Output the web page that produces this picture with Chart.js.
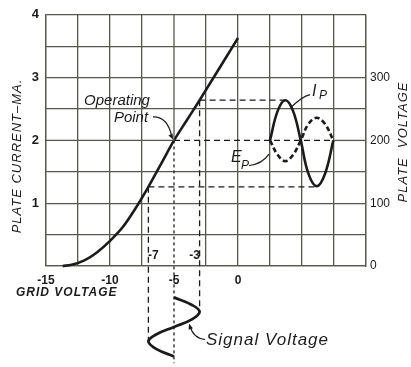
<!DOCTYPE html>
<html>
<head>
<meta charset="utf-8">
<script src="https://cdn.jsdelivr.net/npm/chart.js@4.4.1/dist/chart.umd.min.js"></script>
<style>
  html, body { margin: 0; padding: 0; background: #fff; }
  canvas { display: block; }
</style>
</head>
<body>
<canvas id="tube" width="411" height="367"></canvas>
<script>
// tick labels
const gridTicks = [-15, -10, -5, 0];
const currentTicks = [1, 2, 3, 4];
const plateTicks = [0, 100, 200, 300];

// Ip - Eg characteristic (grid volts, plate ma)
const curveVolts = [-13.7, -13, -12, -11, -10, -9, -8, -7, -6, -5, -4, -3, -2, -1, 0];
const curveMa = [0, 0.02, 0.09, 0.22, 0.4, 0.62, 0.92, 1.26, 1.63, 2.0, 2.32, 2.64, 2.97, 3.3, 3.63];

// operating point and grid swing
const opVolts = -5, opMa = 2.0;
const swingVolts = [-7, -3];
const swingMa = [1.26, 2.64];

// plate current / plate voltage waves, drawn against time along the grid axis
const waveTime = [2.5, 3.1, 3.7, 4.3, 4.9, 5.5, 6.15, 6.8, 7.45];
const ipMa = [2.0, 2.47, 2.64, 2.47, 2.0, 1.47, 1.27, 1.47, 2.0];
const epPlate = [200, 177, 167, 177, 200, 226, 236, 226, 200];

// signal voltage below the axis (grid volts vs time going down)
const signalVolts = [-5, -3.6, -3, -3.6, -5, -6.4, -7, -6.4, -5];
const signalDepth = [-0.5, -0.62, -0.73, -0.85, -0.97, -1.09, -1.2, -1.32, -1.44];

const ink = '#1b1b1b';
const gridInk = '#56594a';

function pts(xs, ys) {
    return xs.map((x, i) => ({ x: x, y: ys[i] }));
}

function line(data, opts) {
    return Object.assign({
        data: data,
        showLine: true,
        pointRadius: 0,
        borderColor: ink,
        borderWidth: 1.3,
        tension: 0,
        clip: false,
        yAxisID: 'y'
    }, opts);
}

const datasets = [
    // grid line pieces that are broken by the construction lines
    line([{ x: -15, y: opMa }, { x: opVolts, y: opMa }], { borderColor: gridInk }),
    line([{ x: 7.5, y: opMa }, { x: 10, y: opMa }], { borderColor: gridInk }),
    line([{ x: opVolts, y: opMa }, { x: opVolts, y: 4 }], { borderColor: gridInk }),

    // construction lines
    line([{ x: swingVolts[0], y: swingMa[0] }, { x: swingVolts[0], y: signalDepth[6] }], { borderDash: [6, 4] }),
    line([{ x: swingVolts[1], y: swingMa[1] }, { x: swingVolts[1], y: signalDepth[2] }], { borderDash: [6, 4] }),
    line([{ x: opVolts, y: opMa }, { x: opVolts, y: -1.55 }], { borderDash: [3, 3] }),
    line([{ x: swingVolts[1], y: swingMa[1] }, { x: waveTime[2], y: swingMa[1] }], { borderDash: [6, 4] }),
    line([{ x: swingVolts[0], y: swingMa[0] }, { x: waveTime[6], y: swingMa[0] }], { borderDash: [6, 4] }),
    line([{ x: opVolts, y: opMa }, { x: waveTime[8], y: opMa }], { borderDash: [6, 4] }),

    // characteristic
    line(pts(curveVolts, curveMa), { borderWidth: 2.6, cubicInterpolationMode: 'monotone' }),
    // plate current wave
    line(pts(waveTime, ipMa), { borderWidth: 2.6, tension: 0.4 }),
    // plate voltage wave
    line(pts(waveTime, epPlate), { borderWidth: 2.6, tension: 0.4, borderDash: [5, 3], yAxisID: 'y2' }),
    // signal voltage
    line(pts(signalVolts, signalDepth), { borderWidth: 2.8, tension: 0.4 })
];

const notes = {
    id: 'notes',
    afterDraw(chart) {
        const c = chart.ctx;
        const sx = chart.scales.x, sy = chart.scales.y;
        const px = v => sx.getPixelForValue(v);
        const py = v => sy.getPixelForValue(v);
        c.save();
        c.fillStyle = ink;
        c.strokeStyle = ink;
        c.lineWidth = 1.2;
        c.textBaseline = 'middle';

        function arrowHead(x, y, ang) {
            c.beginPath();
            c.moveTo(x, y);
            c.lineTo(x - 6 * Math.cos(ang - 0.4), y - 6 * Math.sin(ang - 0.4));
            c.lineTo(x - 6 * Math.cos(ang + 0.4), y - 6 * Math.sin(ang + 0.4));
            c.closePath();
            c.fill();
        }

        // Operating Point
        c.font = 'italic 15px "Liberation Sans"';
        c.textAlign = 'center';
        c.fillText('Operating', 117, py(2.63));
        c.fillText('Point', 131, py(2.36));
        const ox = px(opVolts), oy = py(opMa);
        c.beginPath();
        c.moveTo(153, py(2.36) - 1);
        c.quadraticCurveTo(ox - 6, py(2.38), ox - 2, oy - 3);
        c.stroke();
        arrowHead(ox - 1, oy - 1, 1.1);

        // Ip label
        c.textAlign = 'left';
        c.font = 'italic 16px "Liberation Sans"';
        c.fillText('I', 312, py(2.78));
        c.font = 'italic 12px "Liberation Sans"';
        c.fillText('P', 319, py(2.72));
        c.beginPath();
        c.moveTo(310, py(2.73));
        c.quadraticCurveTo(302, py(2.7), px(4.1), py(2.52));
        c.stroke();

        // Ep label
        c.font = 'italic 16px "Liberation Sans"';
        c.fillText('E', 231, py(1.72));
        c.font = 'italic 12px "Liberation Sans"';
        c.fillText('P', 241, py(1.6));
        c.beginPath();
        c.moveTo(249, py(1.6));
        c.quadraticCurveTo(262, py(1.62), px(2.5) - 1, py(1.78));
        c.stroke();

        // Signal Voltage
        c.font = 'italic 17px "Liberation Sans"';
        if ('letterSpacing' in c) c.letterSpacing = '1px';
        c.fillText('Signal Voltage', 206, py(-1.18));
        if ('letterSpacing' in c) c.letterSpacing = '0px';
        c.beginPath();
        c.moveTo(205, py(-1.17));
        c.quadraticCurveTo(193, py(-1.15), 190, py(-0.95));
        c.stroke();
        arrowHead(189, py(-0.92), -1.9);

        // axis titles
        c.font = 'italic bold 12px "Liberation Sans"';
        c.textAlign = 'left';
        if ('letterSpacing' in c) c.letterSpacing = '1px';
        c.fillText('GRID VOLTAGE', 16, 293);

        c.font = 'italic 13px "Liberation Sans"';
        c.textAlign = 'center';
        c.translate(17, 156);
        c.rotate(-Math.PI / 2);
        c.fillText('PLATE CURRENT\u2013MA.', 0, 0);
        c.restore();

        c.save();
        c.fillStyle = ink;
        c.font = 'italic 13px "Liberation Sans"';
        c.textAlign = 'center';
        c.textBaseline = 'middle';
        if ('letterSpacing' in c) c.letterSpacing = '1px';
        c.translate(403, 142);
        c.rotate(-Math.PI / 2);
        c.fillText('PLATE  VOLTAGE', 0, 0);
        c.restore();

        // swing labels inside the plot
        c.save();
        c.fillStyle = ink;
        c.font = 'bold 12px "Liberation Sans"';
        c.textAlign = 'center';
        c.textBaseline = 'middle';
        c.fillText('-7', px(swingVolts[0]) + 5, py(0.17));
        c.fillText('-3', px(swingVolts[1]) - 5, py(0.17));
        c.restore();
    }
};

new Chart(document.getElementById('tube').getContext('2d'), {
    type: 'scatter',
    data: { datasets: datasets },
    options: {
        responsive: false,
        animation: false,
        devicePixelRatio: 1,
        layout: { padding: { top: 10, left: 0, right: 0, bottom: 0 } },
        plugins: { legend: { display: false }, tooltip: { enabled: false } },
        scales: {
            x: {
                type: 'linear',
                min: -15,
                max: 10,
                afterFit: s => { s.height = 101; },
                afterBuildTicks: s => {
                    s.ticks = [];
                    for (let v = -15; v <= 10; v += 2.5) s.ticks.push({ value: v });
                },
                ticks: {
                    autoSkip: false,
                    maxRotation: 0,
                    padding: 7,
                    color: ink,
                    font: { family: 'Liberation Sans', size: 12, weight: 'bold' },
                    callback: v => gridTicks.includes(v) ? String(v) : ''
                },
                grid: {
                    drawTicks: false,
                    lineWidth: 1.3,
                    color: ctx => (ctx.tick && ctx.tick.value === opVolts) ? 'rgba(0,0,0,0)' : gridInk
                },
                border: { display: true, color: gridInk, width: 1.3 }
            },
            y: {
                type: 'linear',
                position: 'left',
                min: 0,
                max: 4,
                afterFit: s => { s.width = 46; },
                afterBuildTicks: s => {
                    s.ticks = [];
                    for (let v = 0; v <= 4; v += 0.5) s.ticks.push({ value: v });
                },
                ticks: {
                    autoSkip: false,
                    padding: 7,
                    color: ink,
                    font: { family: 'Liberation Sans', size: 13, weight: 'bold' },
                    callback: v => currentTicks.includes(v) ? String(v) : ''
                },
                grid: {
                    drawTicks: false,
                    lineWidth: 1.3,
                    color: ctx => (ctx.tick && ctx.tick.value === opMa) ? 'rgba(0,0,0,0)' : gridInk
                },
                border: { display: true, color: gridInk, width: 1.3 }
            },
            y2: {
                type: 'linear',
                position: 'right',
                min: 0,
                max: 400,
                afterFit: s => { s.width = 45; },
                afterBuildTicks: s => {
                    s.ticks = plateTicks.map(v => ({ value: v }));
                },
                ticks: {
                    autoSkip: false,
                    padding: 4,
                    color: ink,
                    font: { family: 'Liberation Sans', size: 12 }
                },
                grid: { drawOnChartArea: false, drawTicks: false },
                border: { display: true, color: gridInk, width: 1.3 }
            }
        }
    },
    plugins: [notes]
});
</script>
</body>
</html>
